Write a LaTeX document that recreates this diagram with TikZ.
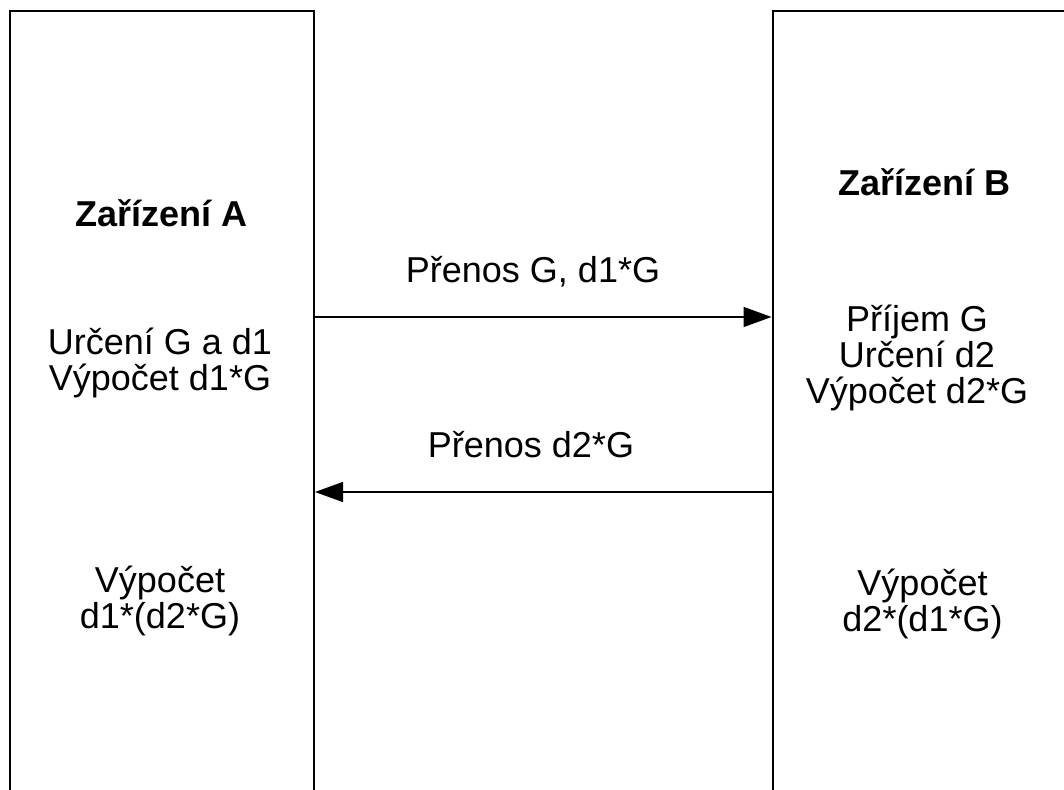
\documentclass[tikz,border=0pt]{standalone}
\usepackage{fontspec}
\setmainfont{Liberation Sans}
\usetikzlibrary{arrows.meta}
\begin{document}
\begin{tikzpicture}[x=1pt,y=1pt,
  device/.style={draw=black,line width=2pt,rectangle,inner sep=0pt},
  lbl/.style={align=center,inner sep=0pt,font=\fontsize{36}{36}\selectfont},
  hdr/.style={lbl,font=\fontsize{36}{36}\selectfont\bfseries},
  msg/.style={line width=1.5pt,-{Triangle[length=28pt,width=20pt]}}]
\useasboundingbox (0,0) rectangle (1064,789);
\clip (0,0) rectangle (1064,789);
\node[device,minimum width=304pt,minimum height=798pt] (devA) at (162,379) {};
\node[device,minimum width=327.5pt,minimum height=798pt] (devB) at (936.25,379) {};
\node[hdr] (ha) at (161.5,576) {Zařízení A};
\node[hdr] (hb) at (924.5,607) {Zařízení B};
\node[lbl] (ta) at (160,426) {Určení G a d1\\Výpočet d1*G};
\node[lbl] (tb) at (917,431) {Příjem G\\Určení d2\\Výpočet d2*G};
\node[lbl] (ma) at (160,188) {Výpočet\\d1*(d2*G)};
\node[lbl] (mb) at (922.5,185) {Výpočet\\d2*(d1*G)};
\node[lbl] (l1) at (533,517) {Přenos G, d1*G};
\node[lbl] (l2) at (531,344) {Přenos d2*G};
\coordinate (a1s) at (devA.east |- 0,472);
\coordinate (a1e) at (devB.west |- 0,472);
\coordinate (a2s) at (devB.west |- 0,297);
\coordinate (a2e) at (devA.east |- 0,297);
\draw[msg] (a1s) -- (a1e);
\draw[msg] (a2s) -- (a2e);
\end{tikzpicture}
\end{document}
